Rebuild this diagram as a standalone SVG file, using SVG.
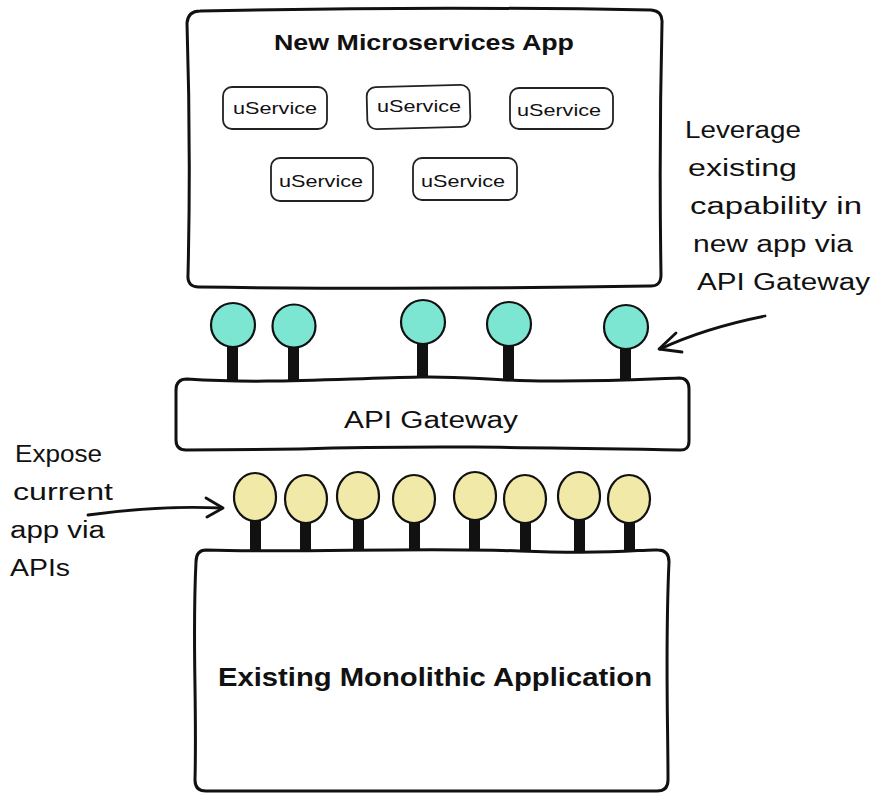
<svg xmlns="http://www.w3.org/2000/svg" width="881" height="795" viewBox="0 0 881 795">
<style>
.box{fill:#fff;stroke:#111;stroke-width:3;stroke-linejoin:round}
.svc{fill:#fff;stroke:#222;stroke-width:1.8}
.t{font-family:"Liberation Sans",Arial,sans-serif;fill:#111}
.title{font-size:22px;font-weight:bold}
.svct{font-size:17px}
.note{font-size:23px}
.g{fill:#7ce6d3;stroke:#111;stroke-width:2.2}
.y{fill:#f0e9a8;stroke:#111;stroke-width:2.2}
.stem{fill:#111}
.arr{fill:none;stroke:#111;stroke-width:2.8;stroke-linecap:round;stroke-linejoin:round}
</style>
<rect width="881" height="795" fill="#fff"/>

<g id="microservices-app">
<path class="box" d="M200 11 Q424 6 651 10 Q663 11 662 23 Q659 150 661 275 Q661 287 649 286 Q424 290 199 287 Q187 287 188 275 Q191 150 187 23 Q188 11 200 11 Z"/>
<text class="t title" x="424" y="50" text-anchor="middle" textLength="300" lengthAdjust="spacingAndGlyphs">New Microservices App</text>
</g>
<g id="svc1"><rect class="svc" x="223" y="87" width="104" height="42" rx="9"/><text class="t svct" x="275" y="114" text-anchor="middle" textLength="84" lengthAdjust="spacingAndGlyphs">uService</text></g>
<g id="svc2"><rect class="svc" x="367" y="86" width="103" height="42" rx="9" transform="rotate(-1.5 418 107)"/><text class="t svct" x="419" y="112" text-anchor="middle" textLength="84" lengthAdjust="spacingAndGlyphs">uService</text></g>
<g id="svc3"><rect class="svc" x="510" y="88" width="103" height="41" rx="9"/><text class="t svct" x="559" y="116" text-anchor="middle" textLength="84" lengthAdjust="spacingAndGlyphs">uService</text></g>
<g id="svc4"><rect class="svc" x="271" y="158" width="102" height="43" rx="9"/><text class="t svct" x="321" y="187" text-anchor="middle" textLength="84" lengthAdjust="spacingAndGlyphs">uService</text></g>
<g id="svc5"><rect class="svc" x="413" y="158" width="104" height="42" rx="9"/><text class="t svct" x="463" y="187" text-anchor="middle" textLength="84" lengthAdjust="spacingAndGlyphs">uService</text></g>

<g id="api-gateway">
<rect class="stem" x="227" y="345" width="11" height="38"/>
<rect class="stem" x="288" y="345" width="11" height="39"/>
<rect class="stem" x="417" y="343" width="11" height="38"/>
<rect class="stem" x="503" y="345" width="11" height="38"/>
<rect class="stem" x="620" y="348" width="11" height="36"/>
<path class="box" d="M187 379 C260 384 330 379 420 377 C470 376 500 382 560 381 C620 381 650 379 679 378 Q689 378 689 389 L689 441 Q689 451 679 450 C560 448 430 445 300 449 L186 450 Q176 450 176 440 L176 390 Q176 379 187 379 Z"/>
<circle class="g" cx="233" cy="325" r="22"/>
<circle class="g" cx="294" cy="326" r="21.5"/>
<circle class="g" cx="423" cy="322" r="22"/>
<circle class="g" cx="509" cy="324" r="22"/>
<circle class="g" cx="626" cy="327" r="22"/>
<text class="t" x="431" y="428" text-anchor="middle" font-size="23" textLength="174" lengthAdjust="spacingAndGlyphs">API Gateway</text>
</g>

<g id="monolith">
<rect class="stem" x="250" y="515" width="11" height="37"/>
<rect class="stem" x="300" y="518" width="11" height="37"/>
<rect class="stem" x="353" y="515" width="11" height="37"/>
<rect class="stem" x="409" y="518" width="11" height="37"/>
<rect class="stem" x="469" y="515" width="11" height="37"/>
<rect class="stem" x="520" y="518" width="11" height="36"/>
<rect class="stem" x="574" y="515" width="11" height="38"/>
<rect class="stem" x="624" y="518" width="11" height="36"/>
<path class="box" d="M206 550 C300 553 420 547 520 551 S640 549 658 550 Q669 550 669 562 C665 650 668 720 668 780 Q668 791 657 791 L206 791 Q195 791 195 780 C197 700 192 640 196 562 Q196 550 206 550 Z"/>
<ellipse class="y" cx="255" cy="497" rx="21" ry="24"/>
<ellipse class="y" cx="306" cy="499" rx="21" ry="24"/>
<ellipse class="y" cx="358" cy="496" rx="21" ry="24"/>
<ellipse class="y" cx="414" cy="499" rx="21" ry="24"/>
<ellipse class="y" cx="475" cy="496" rx="21" ry="24"/>
<ellipse class="y" cx="525" cy="499" rx="21" ry="24"/>
<ellipse class="y" cx="579" cy="496" rx="21" ry="24"/>
<ellipse class="y" cx="629" cy="499" rx="21" ry="24"/>
<text class="t" x="435" y="686" text-anchor="middle" font-size="25" font-weight="bold" textLength="434" lengthAdjust="spacingAndGlyphs">Existing Monolithic Application</text>
</g>

<g id="note-expose">
<text class="t note" x="15" y="462" textLength="87" lengthAdjust="spacingAndGlyphs">Expose</text>
<text class="t note" x="13" y="500" textLength="100" lengthAdjust="spacingAndGlyphs">current</text>
<text class="t note" x="10" y="538" textLength="95" lengthAdjust="spacingAndGlyphs">app via</text>
<text class="t note" x="10" y="576" textLength="60" lengthAdjust="spacingAndGlyphs">APIs</text>
</g>
<g id="note-leverage">
<text class="t note" x="685" y="138" textLength="116" lengthAdjust="spacingAndGlyphs">Leverage</text>
<text class="t note" x="688" y="176" textLength="109" lengthAdjust="spacingAndGlyphs">existing</text>
<text class="t note" x="690" y="214" textLength="172" lengthAdjust="spacingAndGlyphs">capability in</text>
<text class="t note" x="693" y="252" textLength="160" lengthAdjust="spacingAndGlyphs">new app via</text>
<text class="t note" x="697" y="290" textLength="173" lengthAdjust="spacingAndGlyphs">API Gateway</text>
</g>

<g id="connectors">
<path class="arr" d="M88 515 Q160 505 222 508"/>
<path class="arr" d="M206 498 L223 508 L207 517"/>
<path class="arr" d="M765 316 Q705 328 660 349"/>
<path class="arr" d="M676 333 L659 349 L682 352"/>
</g>
</svg>
